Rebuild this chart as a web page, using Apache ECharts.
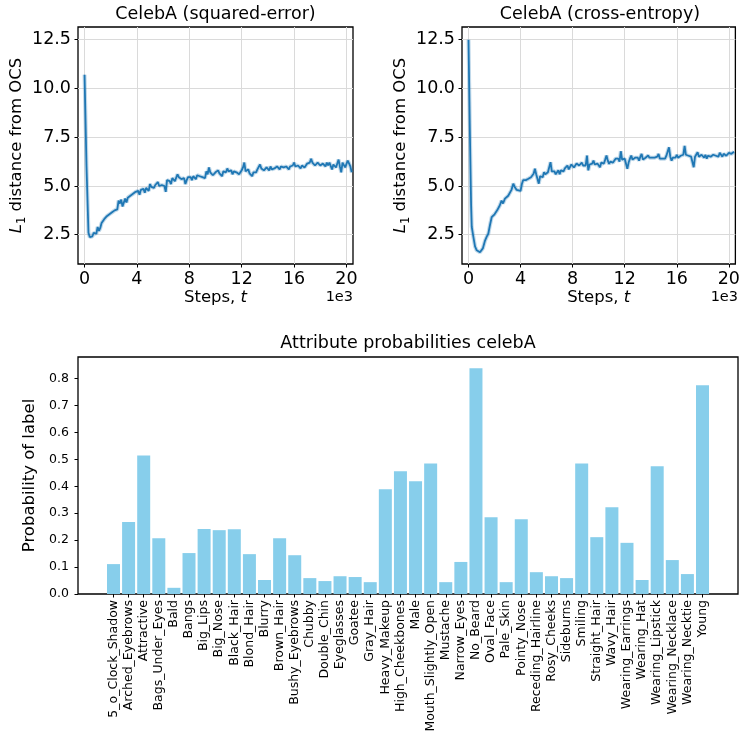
<!DOCTYPE html>
<html>
<head>
<meta charset="utf-8">
<script src="https://cdn.jsdelivr.net/npm/echarts@6/dist/echarts.min.js"></script>
<style>
  html, body { margin: 0; padding: 0; background: #fff; }
  #chart { width: 743px; height: 738px; }
</style>
</head>
<body>
<div id="chart"></div>
<script>
// squared-error run: training step -> L1 distance
const sqSteps = [
  0, 150, 300, 400, 500, 600, 700, 800, 900, 1000,
  1100, 1200, 1300, 1400, 1500, 1600, 1700, 1800, 1900, 2000,
  2100, 2200, 2300, 2400, 2500, 2600, 2700, 2800, 2900, 3000,
  3100, 3200, 3300, 3400, 3500, 3600, 3700, 3800, 3900,
  4000, 4100, 4200, 4300, 4400, 4500, 4600, 4700, 4800, 4900,
  5000, 5100, 5200, 5300, 5400, 5500, 5600, 5700, 5800, 5900,
  6000, 6100, 6200, 6300, 6400, 6500, 6600, 6700, 6800, 6900,
  7000, 7100, 7200, 7300, 7400, 7500, 7600, 7700, 7800, 7900,
  8000, 8100, 8200, 8300, 8400, 8500, 8600, 8700, 8800, 8900,
  9000, 9100, 9200, 9300, 9400, 9500, 9600, 9700, 9800, 9900,
  10000, 10100, 10200, 10300, 10400, 10500, 10600, 10700, 10800, 10900,
  11000, 11100, 11200, 11300, 11400, 11500, 11600, 11700, 11800, 11900,
  12000, 12100, 12200, 12300, 12400, 12500, 12600, 12700, 12800, 12900,
  13000, 13100, 13200, 13300, 13400, 13500, 13600, 13700, 13800, 13900,
  14000, 14100, 14200, 14300, 14400, 14500, 14600, 14700, 14800, 14900,
  15000, 15100, 15200, 15300, 15400, 15500, 15600, 15700, 15800, 15900,
  16000, 16100, 16200, 16300, 16400, 16500, 16600, 16700, 16800, 16900,
  17000, 17100, 17200, 17300, 17400, 17500, 17600, 17700, 17800, 17900,
  18000, 18100, 18200, 18300, 18400, 18500, 18600, 18700, 18800, 18900,
  19000, 19100, 19200, 19300, 19400, 19500, 19600, 19700, 19800, 19900,
  20000, 20100, 20200, 20300, 20400
]
const sqDist = [
  10.7, 6.0, 2.6, 2.38, 2.45, 2.42, 2.6, 2.5, 2.55, 2.9,
  2.7, 2.85, 3.1, 3.0, 3.3, 3.2, 3.45, 3.4, 3.55, 3.5,
  3.65, 3.55, 3.75, 3.7, 3.8, 4.25, 4.1, 4.3, 3.95, 4.0,
  4.35, 4.15, 4.4, 4.3, 4.5, 4.4, 4.6, 4.5, 4.7,
  4.6, 4.75, 4.55, 4.8, 4.7, 4.85, 4.65, 4.9, 4.8, 4.75,
  5.1, 4.95, 5.05, 4.9, 5.05, 5.15, 5.2, 5.0, 5.1, 5.05,
  5.15, 5.0, 4.7, 5.3, 5.2, 5.25, 5.1, 5.4, 5.3, 5.25,
  5.35, 5.6, 5.45, 5.5, 5.35, 5.3, 5.4, 5.1, 5.3, 5.45,
  5.35, 5.45, 5.3, 5.5, 5.4, 5.35, 5.55, 5.45, 5.5, 5.6,
  5.45, 5.55, 5.4, 5.75, 5.6, 5.95, 5.7, 5.65, 5.55, 5.5,
  5.7, 5.6, 5.8, 5.65, 5.7, 5.5, 5.75, 5.85, 5.7, 5.9,
  5.75, 5.65, 5.8, 5.6, 5.75, 5.85, 5.7, 5.75, 5.6, 5.65,
  5.8, 5.95, 6.2, 5.75, 5.7, 5.85, 5.65, 5.75, 5.5, 5.7,
  5.8, 5.7, 5.85, 5.75, 6.1, 5.9, 5.95, 5.8, 5.85, 5.95,
  5.9, 5.8, 6.0, 5.85, 5.95, 5.9, 5.85, 6.0, 5.9, 5.85,
  6.0, 5.9, 5.95, 5.85, 6.0, 5.95, 5.85, 6.0, 5.95, 6.05,
  6.2, 6.0, 5.95, 6.05, 6.0, 5.9, 6.05, 6.1, 5.95, 6.05,
  6.15, 6.05, 6.2, 6.4, 6.2, 6.15, 6.05, 6.1, 6.2, 6.1,
  6.05, 5.95, 6.15, 6.1, 6.0, 6.2, 6.05, 6.2, 6.1, 5.85,
  6.1, 6.2, 5.95, 6.0, 6.35, 6.0, 5.7, 6.2, 6.1, 5.95,
  5.9, 6.3, 6.4, 6.0, 5.7
]

// cross-entropy run
const ceSteps = [
  0, 100, 200, 250, 370, 500, 630, 750, 880, 1000,
  1100, 1270, 1400, 1520, 1650, 1780, 1900, 2000, 2100, 2200,
  2290, 2400, 2540, 2650, 2800, 2900, 3050, 3200, 3300, 3440,
  3550, 3700, 3850,
  4000, 4100, 4200, 4300, 4400, 4500, 4600, 4700, 4800, 4900,
  5000, 5100, 5200, 5300, 5400, 5500, 5600, 5700, 5800, 5900,
  6000, 6100, 6200, 6300, 6400, 6500, 6600, 6700, 6800, 6900,
  7000, 7100, 7200, 7300, 7400, 7500, 7600, 7700, 7800, 7900,
  8000, 8100, 8200, 8300, 8400, 8500, 8600, 8700, 8800, 8900,
  9000, 9100, 9200, 9300, 9400, 9500, 9600, 9700, 9800, 9900,
  10000, 10100, 10200, 10300, 10400, 10500, 10600, 10700, 10800, 10900,
  11000, 11100, 11200, 11300, 11400, 11500, 11600, 11700, 11800, 11900,
  12000, 12100, 12200, 12300, 12400, 12500, 12600, 12700, 12800, 12900,
  13000, 13100, 13200, 13300, 13400, 13500, 13600, 13700, 13800, 13900,
  14000, 14100, 14200, 14300, 14400, 14500, 14600, 14700, 14800, 14900,
  15000, 15100, 15200, 15300, 15400, 15500, 15600, 15700, 15800, 15900,
  16000, 16100, 16200, 16300, 16400, 16500, 16600, 16700, 16800, 16900,
  17000, 17100, 17200, 17300, 17400, 17500, 17600, 17700, 17800, 17900,
  18000, 18100, 18200, 18300, 18400, 18500, 18600, 18700, 18800, 18900,
  19000, 19100, 19200, 19300, 19400, 19500, 19600, 19700, 19800, 19900,
  20000, 20100, 20200, 20300, 20400
]
const ceDist = [
  12.5, 8.0, 4.0, 2.9, 2.4, 1.9, 1.7, 1.62, 1.6, 1.65,
  1.8, 2.2, 2.4, 2.55, 3.0, 3.4, 3.3, 3.55, 3.5, 3.75,
  3.85, 4.0, 4.25, 4.1, 4.35, 4.3, 4.5, 4.6, 4.8, 5.12,
  4.95, 4.8, 4.85,
  4.75, 5.1, 5.3, 5.2, 5.3, 5.25, 5.37, 5.3, 5.45, 5.55,
  5.63, 5.88, 5.6, 5.65, 5.12, 5.5, 5.6, 5.45, 5.71, 5.6,
  5.55, 5.7, 5.8, 6.22, 5.75, 5.65, 5.75, 5.6, 5.7, 5.8,
  5.6, 5.8, 5.7, 5.75, 5.9, 5.8, 6.05, 5.85, 5.95, 6.1,
  6.1, 5.95, 6.0, 6.15, 6.22, 6.05, 6.1, 6.2, 6.05, 6.15,
  6.05, 6.56, 5.8, 6.1, 6.0, 6.15, 6.3, 6.1, 6.2, 6.15,
  6.22, 5.96, 6.2, 6.3, 6.15, 6.35, 6.56, 6.3, 6.13, 6.25,
  6.3, 6.2, 6.25, 6.4, 6.3, 6.4, 6.25, 6.78, 6.35, 6.3,
  6.4, 6.35, 5.88, 6.2, 6.4, 6.56, 6.35, 6.3, 6.45, 6.4,
  6.45, 6.3, 6.5, 6.64, 6.35, 6.3, 6.45, 6.4, 6.56, 6.45,
  6.35, 6.45, 6.4, 6.45, 6.35, 6.5, 6.64, 6.4, 6.45, 6.4,
  6.5, 6.4, 6.55, 6.45, 6.98, 6.5, 6.3, 6.45, 6.55, 6.45,
  6.6, 6.45, 6.4, 6.55, 6.5, 6.6, 7.06, 6.6, 6.5, 6.55,
  6.55, 6.5, 6.6, 5.96, 6.5, 6.55, 6.73, 6.5, 6.45, 6.6,
  6.55, 6.45, 6.6, 6.4, 6.55, 6.64, 6.5, 6.55, 6.6, 6.5,
  6.55, 6.6, 6.5, 6.7, 6.6, 6.5, 6.65, 6.6, 6.55, 6.65,
  6.7, 6.6, 6.65, 6.7, 6.75
]

const attrNames = [
  '5_o_Clock_Shadow', 'Arched_Eyebrows', 'Attractive', 'Bags_Under_Eyes', 'Bald',
  'Bangs', 'Big_Lips', 'Big_Nose', 'Black_Hair', 'Blond_Hair',
  'Blurry', 'Brown_Hair', 'Bushy_Eyebrows', 'Chubby', 'Double_Chin',
  'Eyeglasses', 'Goatee', 'Gray_Hair', 'Heavy_Makeup', 'High_Cheekbones',
  'Male', 'Mouth_Slightly_Open', 'Mustache', 'Narrow_Eyes', 'No_Beard',
  'Oval_Face', 'Pale_Skin', 'Pointy_Nose', 'Receding_Hairline', 'Rosy_Cheeks',
  'Sideburns', 'Smiling', 'Straight_Hair', 'Wavy_Hair', 'Wearing_Earrings',
  'Wearing_Hat', 'Wearing_Lipstick', 'Wearing_Necklace', 'Wearing_Necktie', 'Young'
]
const attrProbs = [
  0.111, 0.267, 0.514, 0.207, 0.023,
  0.152, 0.241, 0.237, 0.240, 0.148,
  0.052, 0.207, 0.144, 0.059, 0.048,
  0.066, 0.063, 0.044, 0.389, 0.456,
  0.419, 0.485, 0.044, 0.119, 0.838,
  0.285, 0.044, 0.278, 0.081, 0.066,
  0.059, 0.485, 0.211, 0.322, 0.190,
  0.052, 0.474, 0.126, 0.074, 0.775
]

const stepTicks = [0, 4000, 8000, 12000, 16000, 20000]
const distTicks = [2.5, 5, 7.5, 10, 12.5]
const probTicks = [0, 0.1, 0.2, 0.3, 0.4, 0.5, 0.6, 0.7, 0.8]

const font = 'DejaVu Sans'
const lineColor = '#1f77b4'

const chart = echarts.init(document.getElementById('chart'), null, { renderer: 'canvas' })

function zip(xs, ys) {
  return xs.map((x, i) => [x, ys[i]])
}

function stepAxis(gridIndex) {
  return {
    type: 'value',
    gridIndex,
    min: -500,
    max: 20500,
    name: 'Steps, {i|t}',
    nameLocation: 'middle',
    nameGap: 22,
    nameTextStyle: {
      fontFamily: font, fontSize: 16.5, color: '#000',
      rich: { i: { fontFamily: font, fontSize: 16.5, fontStyle: 'italic', color: '#000' } }
    },
    axisLine: { show: false, onZero: false },
    axisTick: { show: true, length: 3.5, customValues: stepTicks, lineStyle: { color: '#000' } },
    axisLabel: {
      customValues: stepTicks,
      margin: 6,
      fontFamily: font, fontSize: 17.5, color: '#000',
      formatter: v => String(v / 1000)
    },
    splitLine: { show: true, lineStyle: { color: '#dadada', width: 1 } }
  }
}

function distAxis(gridIndex) {
  return {
    type: 'value',
    gridIndex,
    min: 1.0,
    max: 13.15,
    name: '{i|L}{s|1} distance from OCS',
    nameLocation: 'middle',
    nameRotate: 90,
    nameGap: 41,
    nameTextStyle: {
      fontFamily: font, fontSize: 16.5, color: '#000',
      rich: {
        i: { fontFamily: font, fontSize: 16.5, fontStyle: 'italic', color: '#000', lineHeight: 22, verticalAlign: 'middle' },
        s: { fontFamily: font, fontSize: 11.5, color: '#000', lineHeight: 22, verticalAlign: 'bottom' }
      }
    },
    axisLine: { show: false, onZero: false },
    axisTick: { show: true, length: 3.5, customValues: distTicks, lineStyle: { color: '#000' } },
    axisLabel: {
      customValues: distTicks,
      margin: 7,
      fontFamily: font, fontSize: 17.5, color: '#000',
      formatter: v => v.toFixed(1)
    },
    splitLine: { show: true, lineStyle: { color: '#dadada', width: 1 } }
  }
}

function runSeries(idx, steps, dist) {
  const data = zip(steps, dist)
  return [
    {
      type: 'line', xAxisIndex: idx, yAxisIndex: idx, data,
      showSymbol: false, silent: true,
      lineStyle: { color: 'rgba(31,119,180,0.28)', width: 4 }
    },
    {
      type: 'line', xAxisIndex: idx, yAxisIndex: idx, data,
      showSymbol: false,
      lineStyle: { color: lineColor, width: 1.8 }
    }
  ]
}

function titleText(text, x, y) {
  return {
    type: 'text', x, y, z: 100,
    style: {
      text, fontFamily: font, fontSize: 17.5, fill: '#000',
      align: 'center', verticalAlign: 'middle',
      textAlign: 'center', textVerticalAlign: 'middle'
    }
  }
}

function offsetText(x, y) {
  return {
    type: 'text', x, y, z: 100,
    style: {
      text: '1e3', fontFamily: font, fontSize: 14.5, fill: '#000',
      align: 'right', verticalAlign: 'middle',
      textAlign: 'right', textVerticalAlign: 'middle'
    }
  }
}

const frame = { show: true, borderColor: '#000', borderWidth: 1.3, backgroundColor: '#fff' }

chart.setOption({
  animation: false,
  grid: [
    Object.assign({ left: 78, top: 27, width: 275, height: 237 }, frame),
    Object.assign({ left: 462, top: 27, width: 276, height: 237 }, frame),
    Object.assign({ left: 78, top: 357, width: 660, height: 237 }, frame)
  ],
  xAxis: [
    stepAxis(0),
    stepAxis(1),
    {
      type: 'value',
      gridIndex: 2,
      min: -2.35,
      max: 41.35,
      axisLine: { show: false, onZero: false },
      axisTick: { show: true, length: 3.5, customValues: attrNames.map((_, i) => i), lineStyle: { color: '#000' } },
      axisLabel: {
        customValues: attrNames.map((_, i) => i),
        rotate: 90,
        margin: 6,
        fontFamily: font, fontSize: 12.5, color: '#000',
        formatter: v => attrNames[v]
      },
      splitLine: { show: false }
    }
  ],
  yAxis: [
    distAxis(0),
    distAxis(1),
    {
      type: 'value',
      gridIndex: 2,
      min: 0,
      max: 0.88,
      name: 'Probability of label',
      nameLocation: 'middle',
      nameRotate: 90,
      nameGap: 29,
      nameTextStyle: { fontFamily: font, fontSize: 16.5, color: '#000' },
      axisLine: { show: false, onZero: false },
      axisTick: { show: true, length: 3.5, customValues: probTicks, lineStyle: { color: '#000' } },
      axisLabel: {
        customValues: probTicks,
        margin: 9,
        fontFamily: font, fontSize: 12.5, color: '#000',
        formatter: v => v.toFixed(1)
      },
      splitLine: { show: false }
    }
  ],
  series: [
    ...runSeries(0, sqSteps, sqDist),
    ...runSeries(1, ceSteps, ceDist),
    {
      type: 'bar',
      xAxisIndex: 2,
      yAxisIndex: 2,
      barWidth: 13,
      itemStyle: { color: '#87ceeb' },
      data: zip(attrNames.map((_, i) => i), attrProbs)
    }
  ],
  graphic: [
    titleText('CelebA (squared-error)', 215.5, 14),
    titleText('CelebA (cross-entropy)', 600, 14),
    titleText('Attribute probabilities celebA', 408, 343.5),
    offsetText(353, 297),
    offsetText(738, 297)
  ]
})
</script>
</body>
</html>
